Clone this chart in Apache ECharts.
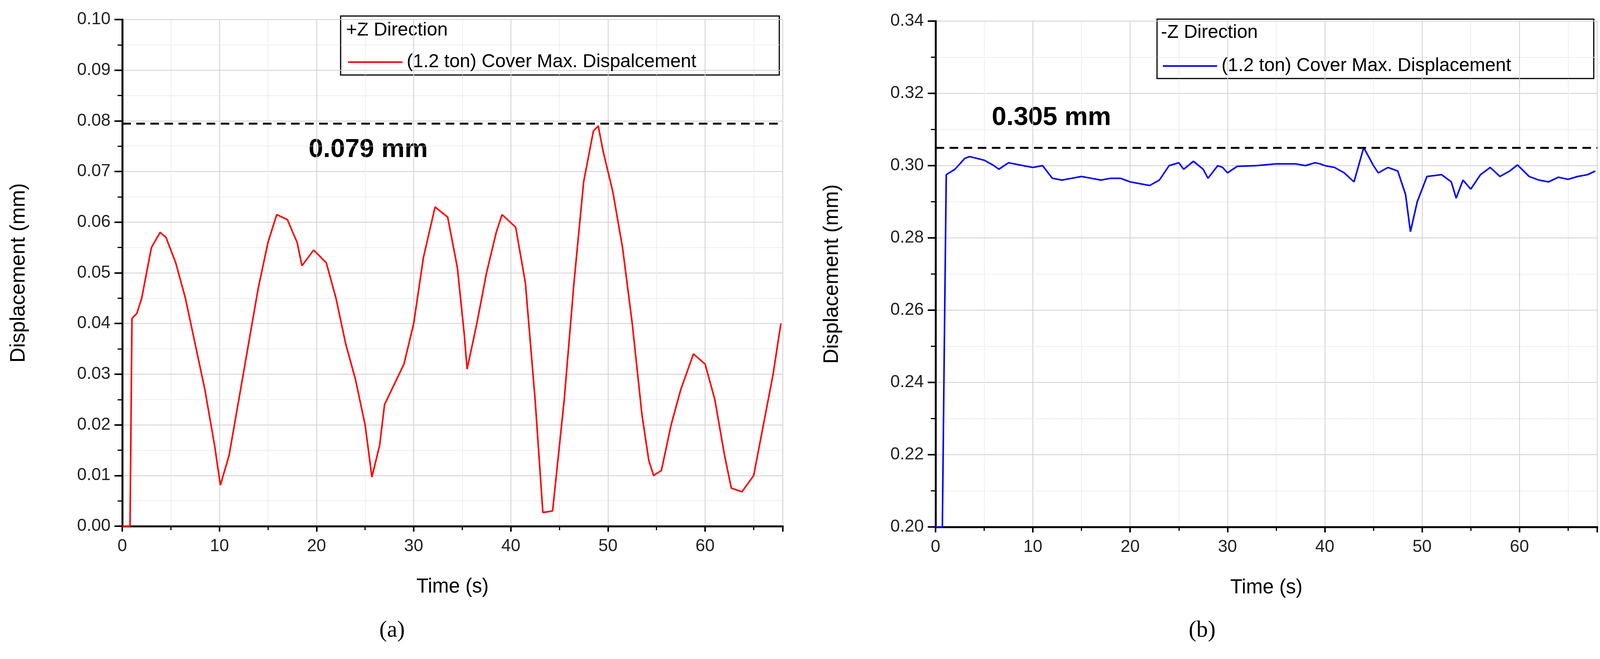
<!DOCTYPE html>
<html>
<head>
<meta charset="utf-8">
<script src="https://cdn.jsdelivr.net/npm/echarts@6/dist/echarts.min.js"></script>
<style>html,body{margin:0;padding:0;background:#fff;overflow:hidden}#c{width:100vw;height:100vh}</style>
</head>
<body>
<div id="c"></div>
<script>
// +Z direction (a)
var timeA = [0,0.7,0.8,1.0,1.5,2,2.5,3,3.9,4.5,5.5,6.5,7.5,8.5,9.5,10.1,11,12,13,14,15,15.9,17,18,18.5,19.7,21,22,23,24,25,25.7,26.5,27,28,29,30,31,32.2,33.5,34.5,35.2,35.5,36.5,37.5,38.5,39.1,40.5,41.5,42.5,43.3,44.3,45.5,46.5,47.5,48.5,49,49.5,50,50.5,51.5,52.5,53.5,54.2,54.7,55.5,56.5,57.5,58.8,60,61,62,62.7,63.8,65,66,67,67.8];
var dispA = [0,0,0,0.041,0.042,0.045,0.050,0.055,0.058,0.057,0.052,0.045,0.036,0.027,0.016,0.0081,0.014,0.025,0.036,0.047,0.056,0.0615,0.0605,0.056,0.0514,0.0545,0.052,0.045,0.036,0.029,0.020,0.0097,0.016,0.024,0.028,0.032,0.040,0.053,0.063,0.061,0.051,0.038,0.031,0.040,0.050,0.058,0.0615,0.059,0.048,0.025,0.0027,0.003,0.025,0.048,0.068,0.078,0.079,0.074,0.070,0.066,0.055,0.040,0.022,0.013,0.010,0.011,0.020,0.027,0.034,0.032,0.025,0.014,0.0075,0.0068,0.010,0.020,0.030,0.040];
// -Z direction (b)
var timeB = [0,0.7,0.9,1.1,2,3,3.5,5,6,6.5,7.5,9,10,11,12,13,14,15,16,17,18,19,20,21,22,23,24,25,25.5,26.5,27.5,28,29,29.5,30,31,33,35,37,38,39,39.5,40,41,42,43,44,45,45.5,46.5,47.5,48.3,48.8,49.5,50.5,52,53,53.5,54.2,55,56,57,58,59,59.8,61,62,63,64,65,66,67,67.8];
var dispB = [0.20,0.20,0.25,0.2975,0.299,0.302,0.3025,0.3015,0.300,0.299,0.3008,0.300,0.2995,0.300,0.2965,0.296,0.2965,0.297,0.2965,0.296,0.2965,0.2965,0.2955,0.295,0.2945,0.296,0.300,0.3008,0.299,0.3012,0.299,0.2965,0.300,0.2995,0.298,0.2998,0.300,0.3005,0.3005,0.300,0.3008,0.3005,0.300,0.2995,0.298,0.2955,0.305,0.300,0.298,0.2995,0.2985,0.292,0.2817,0.290,0.297,0.2975,0.2955,0.291,0.296,0.2935,0.2975,0.2995,0.297,0.2985,0.3002,0.297,0.296,0.2955,0.2968,0.2962,0.297,0.2975,0.2985];
var maxA = 0.0795, maxB = 0.305;

function pairs(t, v){ return t.map(function(x,i){ return [x, v[i]]; }); }

var el = document.getElementById('c');
var sx = el.clientWidth / 4301, sy = el.clientHeight / 1687;
function X(v){ return Math.round(v * sx); }
function Y(v){ return Math.round(v * sy); }
function F(v){ return Math.round(v * sx); }

var chart = echarts.init(el);
var font = 'Liberation Sans';
function xAx(idx){
	return {
		gridIndex: idx, type: 'value', min: 0, max: 68, interval: 10,
		name: 'Time (s)', nameLocation: 'middle', nameGap: Y(130),
		nameTextStyle: {fontFamily: font, fontSize: F(54), color: '#000'},
		axisLine: {lineStyle: {color: '#000', width: 5}},
		axisTick: {length: 14, lineStyle: {color: '#000', width: 4}},
		minorTick: {show: true, splitNumber: 2, length: 10, lineStyle: {color: '#000', width: 3}},
		axisLabel: {fontFamily: font, fontSize: F(46), color: '#222', margin: 30, showMaxLabel: false},
		splitLine: {show: true, lineStyle: {color: '#d0d0d0', width: 2}},
		minorSplitLine: {show: true, lineStyle: {color: '#dddddd', width: 2, type: 'dotted'}}
	};
}
function yAx(idx, min, max, iv){
	return {
		gridIndex: idx, type: 'value', min: min, max: max, interval: iv,
		name: 'Displacement (mm)', nameLocation: 'middle', nameGap: X(250),
		nameTextStyle: {fontFamily: font, fontSize: F(56), color: '#000'},
		axisLine: {show: true, lineStyle: {color: '#000', width: 5}},
		axisTick: {show: true, length: 20, lineStyle: {color: '#000', width: 4}},
		minorTick: {show: true, splitNumber: 2, length: 12, lineStyle: {color: '#000', width: 3}},
		axisLabel: {fontFamily: font, fontSize: F(46), color: '#222', margin: 30, formatter: function(v){ return v.toFixed(2); }},
		splitLine: {show: true, lineStyle: {color: '#d0d0d0', width: 2}},
		minorSplitLine: {show: true, lineStyle: {color: '#dddddd', width: 2, type: 'dotted'}}
	};
}
function mline(y){
	return {silent: true, symbol: 'none', precision: 5, label: {show: false},
		lineStyle: {color: '#000', type: [22, 14], width: 5}, data: [{yAxis: y}]};
}
var option = {
	animation: false,
	backgroundColor: '#fff',
	grid: [
		{left: X(329), top: Y(50), width: X(1776), height: Y(1297)},
		{left: X(2515), top: Y(54), width: X(1779), height: Y(1295)}
	],
	xAxis: [xAx(0), xAx(1)],
	yAxis: [yAx(0, 0, 0.10, 0.01), yAx(1, 0.20, 0.34, 0.02)],
	legend: [
		{data: ['(1.2 ton) Cover Max. Dispalcement'], left: X(930), top: Y(130), itemWidth: X(146), itemHeight: 4, itemGap: 0,
			textStyle: {fontFamily: font, fontSize: F(50), color: '#000', padding: [0, 0, 0, 6]}, icon: 'rect'},
		{data: ['(1.2 ton) Cover Max. Displacement'], left: X(3121), top: Y(140), itemWidth: X(146), itemHeight: 4, itemGap: 0,
			textStyle: {fontFamily: font, fontSize: F(50), color: '#000', padding: [0, 0, 0, 6]}, icon: 'rect'}
	],
	series: [
		{name: '(1.2 ton) Cover Max. Dispalcement', type: 'line', xAxisIndex: 0, yAxisIndex: 0,
			data: pairs(timeA, dispA), showSymbol: false, lineStyle: {color: '#ff0000', width: 4}, itemStyle: {color: '#ff0000'},
			markLine: mline(maxA)},
		{name: '(1.2 ton) Cover Max. Displacement', type: 'line', xAxisIndex: 1, yAxisIndex: 1,
			data: pairs(timeB, dispB), showSymbol: false, lineStyle: {color: '#0000ff', width: 4}, itemStyle: {color: '#0000ff'},
			markLine: mline(maxB)}
	],
	graphic: [
		{type: 'rect', shape: {x: X(916), y: Y(41), width: X(1179), height: Y(151)}, style: {fill: '#fff', stroke: '#000', lineWidth: 3}, z: -1},
		{type: 'rect', shape: {x: X(3110), y: Y(49), width: X(1174), height: Y(152)}, style: {fill: '#fff', stroke: '#000', lineWidth: 3}, z: -1},
		{type: 'text', left: X(930), top: Y(54), style: {text: '+Z Direction', font: F(50) + 'px "Liberation Sans"', fill: '#000'}},
		{type: 'text', left: X(3121), top: Y(60), style: {text: '-Z Direction', font: F(50) + 'px "Liberation Sans"', fill: '#000'}},
		{type: 'text', left: X(830), top: Y(350), style: {text: '0.079 mm', font: 'bold ' + F(70) + 'px "Liberation Sans"', fill: '#000'}},
		{type: 'text', left: X(2666), top: Y(268), style: {text: '0.305 mm', font: 'bold ' + F(70) + 'px "Liberation Sans"', fill: '#000'}},
		{type: 'text', left: X(1020), top: Y(1585), style: {text: '(a)', font: F(62) + 'px "Liberation Serif"', fill: '#000'}},
		{type: 'text', left: X(3195), top: Y(1585), style: {text: '(b)', font: F(62) + 'px "Liberation Serif"', fill: '#000'}}
	]
};
chart.setOption(option);
</script>
</body>
</html>
